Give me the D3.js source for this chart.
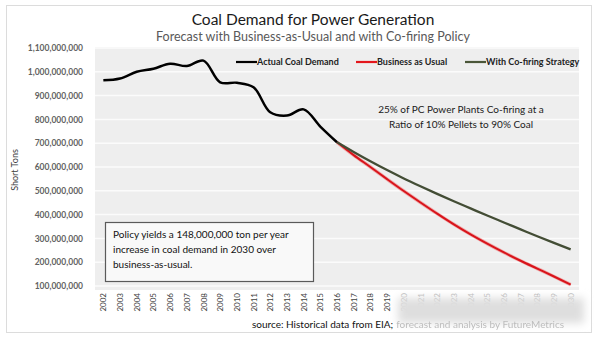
<!DOCTYPE html>
<html>
<head>
<meta charset="utf-8">
<script src="https://cdn.jsdelivr.net/npm/d3@7"></script>
<style>
  html, body { margin:0; padding:0; background:#fff; }
  .canvas { width:600px; height:338px; }
  text { font-family: Lato, "Open Sans", sans-serif; }
</style>
</head>
<body>
<div class="canvas" id="canvas"></div>
<script>
// coal demand, short tons
var years = ['2002','2003','2004','2005','2006','2007','2008','2009','2010','2011','2012','2013','2014','2015','2016',
             '2017','2018','2019','2020','2021','2022','2023','2024','2025','2026','2027','2028','2029','2030'];
var actualYears = years.slice(0, 15);
var forecastYears = years.slice(14);
var actualDemand = [964e6, 972e6, 1000e6, 1013e6, 1034e6, 1024e6, 1047e6, 956e6, 954e6, 935e6, 830e6, 816e6, 842e6, 770e6, 704e6];
var businessAsUsual = [704e6, 650e6, 600e6, 549e6, 499e6, 451e6, 404e6, 359e6, 317e6, 278e6, 241e6, 206e6, 173e6, 140e6, 106e6];
var coFiring = [704e6, 663e6, 624e6, 587e6, 552e6, 519e6, 487e6, 456e6, 426e6, 396e6, 367e6, 338e6, 309e6, 281e6, 254e6];
var yTicks = [100e6, 200e6, 300e6, 400e6, 500e6, 600e6, 700e6, 800e6, 900e6, 1000e6, 1100e6];
var legendItems = [
    {name:'Actual Coal Demand', color:'#000000', x:236},
    {name:'Business as Usual', color:'#e3161c', x:356},
    {name:'With Co-firing Strategy', color:'#4a5638', x:465}
];

var W = 600, H = 338;
var plotL = 95, plotR = 579, plotT = 47, plotB = 290;

var svg = d3.select('.canvas')
    .append('svg')
    .attr('width', W)
    .attr('height', H);

var defs = svg.append('defs');
defs.append('filter').attr('id','soft')
    .attr('x','-20%').attr('y','-50%').attr('width','140%').attr('height','200%')
    .append('feGaussianBlur').attr('stdDeviation', 4);
defs.append('filter').attr('id','haze')
    .append('feGaussianBlur').attr('stdDeviation', 0.6);

// outer chart frame
svg.append('rect')
    .attr('x', 6.5).attr('y', 5.5)
    .attr('width', 585).attr('height', 327)
    .attr('fill', '#fff')
    .attr('stroke', '#dcdcdc');

var x = d3.scalePoint().domain(years).range([plotL, plotR]).padding(0.5);
var y = d3.scaleLinear().domain([100e6, 1100e6]).range([286, 48]);

// plot area + gridlines
svg.append('rect')
    .attr('x', plotL).attr('y', plotT)
    .attr('width', plotR - plotL).attr('height', plotB - plotT)
    .attr('fill', '#eeeeee');

svg.append('g').selectAll('line')
    .data(yTicks)
    .enter().append('line')
    .attr('x1', plotL).attr('x2', plotR)
    .attr('y1', function(d){ return y(d); })
    .attr('y2', function(d){ return y(d); })
    .attr('stroke', '#fbfbfb')
    .attr('stroke-width', 1.5);

// y axis labels
var yAxis = d3.axisLeft(y)
    .tickValues(yTicks)
    .tickSize(0)
    .tickPadding(0)
    .tickFormat(d3.format(','));
var gy = svg.append('g')
    .attr('transform', 'translate(83,0)')
    .call(yAxis);
gy.select('.domain').remove();
gy.selectAll('text')
    .attr('fill', '#626262')
    .style('font-size', '8.5px')
    .style('font-weight', 'bold');

svg.append('text')
    .attr('transform', 'translate(18,170) rotate(-90)')
    .attr('text-anchor', 'middle')
    .attr('fill', '#404040')
    .style('font-size', '9px')
    .text('Short Tons');

// x axis labels, rotated
var xAxis = d3.axisBottom(x).tickSize(0).tickPadding(0);
var gx = svg.append('g')
    .attr('transform', 'translate(0,' + (plotB + 3) + ')')
    .call(xAxis);
gx.select('.domain').remove();
gx.selectAll('text')
    .attr('transform', 'rotate(-90)')
    .attr('text-anchor', 'end')
    .attr('dy', '0.32em')
    .attr('x', 0).attr('y', 0)
    .attr('fill', function(d){ return +d > 2019 ? '#b5b5b5' : '#404040'; })
    .style('font-size', '8px');

// haze over the later labels
svg.append('rect')
    .attr('x', 398).attr('y', 298)
    .attr('width', 186).attr('height', 25)
    .attr('fill', '#dedede')
    .attr('filter', 'url(#soft)');

// lines
var line = d3.line()
    .x(function(d){ return x(d.year); })
    .y(function(d){ return y(d.value); })
    .curve(d3.curveCatmullRom.alpha(0.5));
var smooth = d3.line()
    .x(function(d){ return x(d.year); })
    .y(function(d){ return y(d.value); })
    .curve(d3.curveMonotoneX);

function pairs(ys, vals){
    return ys.map(function(yr, i){ return {year:yr, value:vals[i]}; });
}

svg.append('path')
    .datum(pairs(forecastYears, businessAsUsual))
    .attr('d', smooth)
    .attr('fill', 'none')
    .attr('stroke', '#f06a6a')
    .attr('stroke-opacity', 0.5)
    .attr('stroke-width', 3.5)
    .attr('filter', 'url(#haze)');
svg.append('path')
    .datum(pairs(forecastYears, businessAsUsual))
    .attr('d', smooth)
    .attr('fill', 'none')
    .attr('stroke', '#d8141b')
    .attr('stroke-width', 2);

svg.append('path')
    .datum(pairs(forecastYears, coFiring))
    .attr('d', smooth)
    .attr('fill', 'none')
    .attr('stroke', '#434d35')
    .attr('stroke-width', 2.3);

svg.append('path')
    .datum(pairs(actualYears, actualDemand))
    .attr('d', line)
    .attr('fill', 'none')
    .attr('stroke', '#000')
    .attr('stroke-width', 2.5)
    .attr('stroke-linejoin', 'round');

// legend
var lg = svg.append('g').selectAll('g')
    .data(legendItems)
    .enter().append('g')
    .attr('transform', function(d){ return 'translate(' + d.x + ',62)'; });
lg.append('line')
    .attr('x1', 0).attr('x2', 21)
    .attr('stroke', function(d){ return d.color; })
    .attr('stroke-width', 2.2);
lg.append('text')
    .attr('x', 21).attr('dy', '0.35em')
    .attr('fill', '#222')
    .style('font-size', '9px')
    .style('font-weight', 'bold')
    .text(function(d){ return d.name; });

// titles
svg.append('text')
    .attr('x', 313).attr('y', 25)
    .attr('text-anchor', 'middle')
    .attr('fill', '#1a1a1a')
    .style('font-size', '15.5px')
    .text('Coal Demand for Power Generation');
svg.append('text')
    .attr('x', 313).attr('y', 41)
    .attr('text-anchor', 'middle')
    .attr('fill', '#595959')
    .style('font-size', '12.5px')
    .text('Forecast with Business-as-Usual and with Co-firing Policy');

// scenario note
var note = svg.append('text')
    .attr('text-anchor', 'middle')
    .attr('fill', '#1a1a1a')
    .style('font-size', '10px');
note.append('tspan').attr('x', 461).attr('y', 113).text('25% of PC Power Plants Co-firing at a');
note.append('tspan').attr('x', 461).attr('y', 128).text('Ratio of 10% Pellets to 90% Coal');

// policy box
svg.append('rect')
    .attr('x', 105.5).attr('y', 222.5)
    .attr('width', 208).attr('height', 59)
    .attr('fill', '#f9f9f9')
    .attr('stroke', '#5a5a5a')
    .attr('stroke-width', 1.2);
var box = svg.append('text')
    .attr('fill', '#111')
    .style('font-size', '10px');
box.append('tspan').attr('x', 113).attr('y', 238).text('Policy yields a 148,000,000 ton per year');
box.append('tspan').attr('x', 113).attr('y', 253).text('increase in coal demand in 2030 over');
box.append('tspan').attr('x', 113).attr('y', 268).text('business-as-usual.');

// source line, second half sits right after the first
var src1 = svg.append('text')
    .attr('x', 252).attr('y', 328)
    .attr('fill', '#111')
    .style('font-size', '10px')
    .text('source: Historical data from EIA;');
var srcEnd = 252 + src1.node().getComputedTextLength() + 3;
svg.append('text')
    .attr('x', srcEnd).attr('y', 328)
    .attr('fill', '#bdbdbd')
    .attr('filter', 'url(#haze)')
    .style('font-size', '10px')
    .text('forecast and analysis by FutureMetrics');
</script>
</body>
</html>
